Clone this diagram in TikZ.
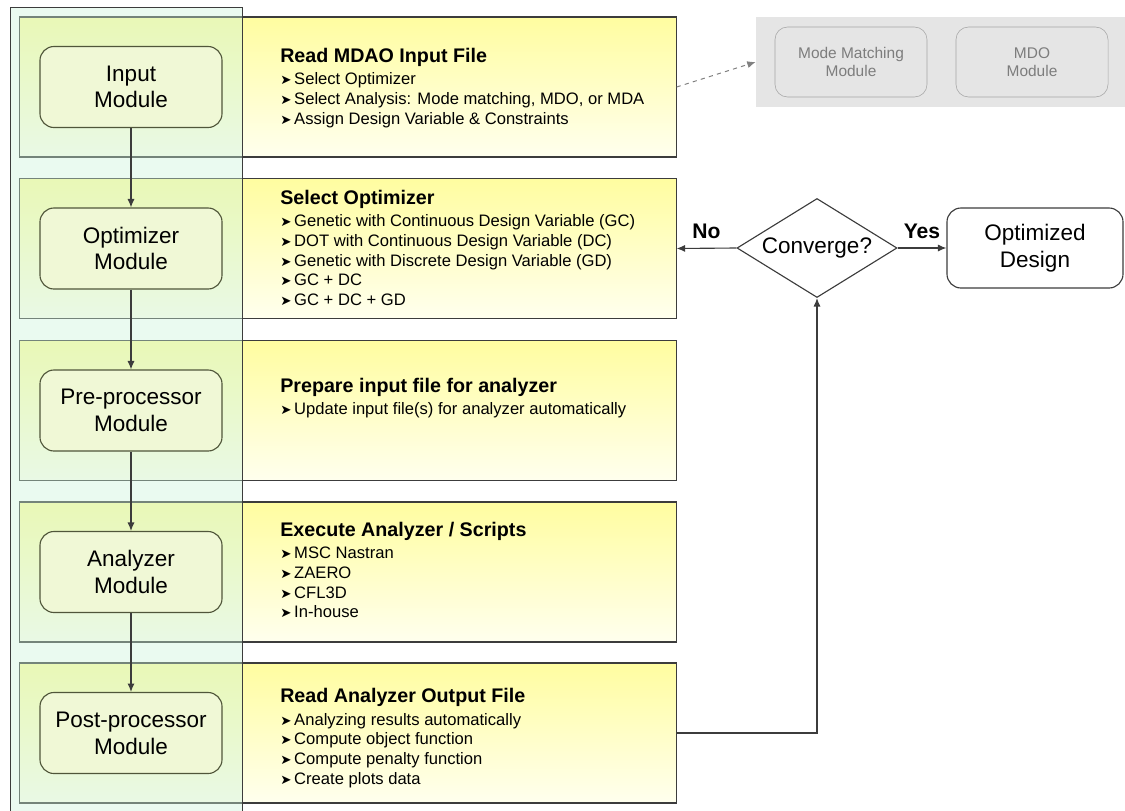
\documentclass[tikz,border=0pt]{standalone}
\usepackage{fontspec}
\setmainfont{Liberation Sans}
\newfontfamily\symfont{DejaVu Sans}
\usetikzlibrary{shapes.geometric, arrows.meta, positioning}

\definecolor{lanefill}{RGB}{202,242,217}
\definecolor{bandtop}{RGB}{255,253,160}
\definecolor{bandbot}{RGB}{255,255,238}
\definecolor{modfill}{RGB}{240,248,214}
\definecolor{modline}{RGB}{80,86,58}
\definecolor{linegray}{RGB}{60,60,60}
\definecolor{boxgray}{RGB}{229,229,229}
\definecolor{textgray}{RGB}{125,125,125}

\newcommand{\itm}{{\symfont\fontsize{9.5}{9.5}\selectfont ➤}\,}
\newcommand{\ttl}[1]{{\fontsize{14}{17}\selectfont\bfseries #1}\\[2pt]}

\begin{document}
\begin{tikzpicture}[x=0.025cm, y=-0.025cm,
    band/.style={draw=linegray, line width=0.8pt, minimum width=16.4cm,
      minimum height=3.5cm, inner sep=0pt, top color=bandtop, bottom color=bandbot},
    module/.style={draw=modline, fill=modfill, rounded corners=10pt, line width=0.8pt,
      minimum width=4.55cm, minimum height=2.025cm, align=center,
      font=\fontsize{16}{19}\selectfont},
    desc/.style={anchor=west, align=left, inner sep=0pt, font=\fontsize{11.8}{14}\selectfont},
    ghost/.style={draw=gray!70, fill=boxgray, rounded corners=9pt, text=textgray,
      minimum width=3.8cm, minimum height=1.75cm, align=center,
      font=\fontsize{11}{13}\selectfont},
    flow/.style={draw=linegray, line width=0.8pt, -{Latex[length=6pt,width=5pt]}},
    lbl/.style={font=\fontsize{15}{17}\selectfont\bfseries}]
  \useasboundingbox (0,0) rectangle (1125,810);
  \def\xm{131}
  \def\xd{280}

  % bands
  \node[band] (inband)   at (348,87)    {};
  \node[band] (optband)  at (348,248.5) {};
  \node[band] (preband)  at (348,410.5) {};
  \node[band] (anaband)  at (348,572)   {};
  \node[band] (postband) at (348,733)   {};

  % lane
  \draw[linegray, line width=0.6pt, fill=lanefill, fill opacity=0.4] (10,7) rectangle (242,815);

  % modules
  \node[module] (input)    at (\xm,87)    {Input\\Module};
  \node[module] (optim)    at (\xm,248.5) {Optimizer\\Module};
  \node[module] (preproc)  at (\xm,410.5) {Pre-processor\\Module};
  \node[module] (analyzer) at (\xm,572)   {Analyzer\\Module};
  \node[module] (postproc) at (\xm,733)   {Post-processor\\Module};

  \draw[flow] (input) -- (optim);
  \draw[flow] (optim) -- (preproc);
  \draw[flow] (preproc) -- (analyzer);
  \draw[flow] (analyzer) -- (postproc);

  % descriptions
  \node[desc] (indesc) at (\xd,88) {\ttl{Read MDAO Input File}
    \itm Select Optimizer\\
    \itm Select Analysis: Mode matching, MDO, or MDA\\
    \itm Assign Design Variable \& Constraints};
  \node[desc] (optdesc) at (\xd,248) {\ttl{Select Optimizer}
    \itm Genetic with Continuous Design Variable (GC)\\
    \itm DOT with Continuous Design Variable (DC)\\
    \itm Genetic with Discrete Design Variable (GD)\\
    \itm GC + DC\\
    \itm GC + DC + GD};
  \node[desc] (predesc) at (\xd,398) {\ttl{Prepare input file for analyzer}
    \itm Update input file(s) for analyzer automatically};
  \node[desc] (anadesc) at (\xd,570) {\ttl{Execute Analyzer / Scripts}
    \itm MSC Nastran\\
    \itm ZAERO\\
    \itm CFL3D\\
    \itm In-house};
  \node[desc] (postdesc) at (\xd,738) {\ttl{Read Analyzer Output File}
    \itm Analyzing results automatically\\
    \itm Compute object function\\
    \itm Compute penalty function\\
    \itm Create plots data};

  % analysis modules (grey)
  \node[fill=boxgray, minimum width=9.225cm, minimum height=2.25cm] (mdbox) at (940.5,62) {};
  \node[ghost] (modematch) at (851,62)  {Mode Matching\\Module};
  \node[ghost] (mdo)       at (1032,62) {MDO\\Module};
  \draw[gray, dashed, line width=0.7pt, -{Latex[length=6pt,width=5pt]}] (inband.east) -- (mdbox.west);

  % convergence loop
  \node[draw=linegray, line width=0.8pt, diamond, aspect=1.6, inner sep=0pt,
    minimum width=4cm, minimum height=2.475cm, font=\fontsize{16}{19}\selectfont]
    (conv) at (817,248) {Converge?};
  \node[draw=linegray, line width=0.8pt, rounded corners=10pt, minimum width=4.4cm,
    minimum height=2cm, align=center, font=\fontsize{16}{19}\selectfont]
    (optdes) at (1035,248) {Optimized\\Design};

  \draw[flow] (conv.west) -- node[lbl, above=3pt] {No} (optband.east);
  \draw[flow] (conv.east) -- node[lbl, above=3pt] {Yes} (optdes.west);
  \draw[flow] (postband.east) -| (conv.south);
\end{tikzpicture}
\end{document}
